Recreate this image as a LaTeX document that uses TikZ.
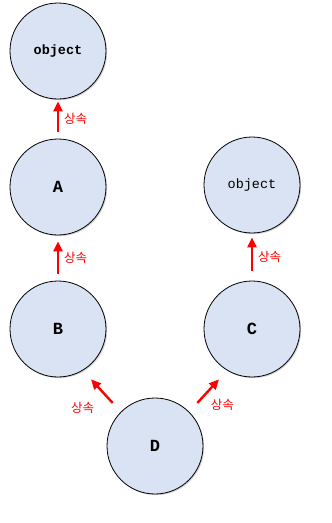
\documentclass[tikz,border=0pt]{standalone}
\usepackage{fontspec}
\setmonofont{Liberation Mono}
\newfontfamily\kofont{Noto Sans CJK KR}
\usetikzlibrary{arrows.meta,shadows}
\definecolor{clsfill}{RGB}{218,227,243}
\tikzset{
  cls/.style={circle, draw=black, line width=0.8pt, fill=clsfill, minimum size=96pt, inner sep=0pt,
    drop shadow={shadow xshift=1.2pt, shadow yshift=-1.2pt, opacity=0.35}},
  inh/.style={red, line width=2.4pt, -{Triangle[length=10pt,width=9pt]}},
  inhlabel/.style={text=red, font=\kofont\fontsize{12.5}{14}\selectfont, inner sep=1pt}
}
\begin{document}
\begin{tikzpicture}[x=1pt,y=-1pt]
    \useasboundingbox (0,0) rectangle (332,523);
    % classes
    \node[cls] (obj1) at (58,51) {\ttfamily\bfseries\fontsize{13.5}{15}\selectfont object};
    \node[cls] (a) at (58,187) {\ttfamily\bfseries\fontsize{17}{19}\selectfont A};
    \node[cls] (b) at (58,329) {\ttfamily\bfseries\fontsize{17}{19}\selectfont B};
    \node[cls] (obj2) at (252,185) {\ttfamily\fontsize{13.5}{15}\selectfont object};
    \node[cls] (c) at (252,329) {\ttfamily\bfseries\fontsize{17}{19}\selectfont C};
    \node[cls] (d) at (155,446) {\ttfamily\bfseries\fontsize{17}{19}\selectfont D};
    % inheritance
    \draw[inh, shorten <=7pt, shorten >=2pt] (a) -- (obj1) node[midway, right=4pt, inhlabel]{상속};
    \draw[inh, shorten <=7pt, shorten >=6pt] (b) -- (a) node[midway, right=4pt, inhlabel]{상속};
    \draw[inh, shorten <=10pt, shorten >=4pt] (c) -- (obj2) node[midway, right=4pt, inhlabel]{상속};
    \draw[inh, shorten <=12pt, shorten >=12pt] (d.135) -- (b.-59)
        node[pos=0.2, anchor=north east, xshift=-17pt, yshift=4pt, inhlabel]{상속};
    \draw[inh, shorten <=12pt, shorten >=12pt] (d.45) -- (c.-121)
        node[pos=0.2, anchor=north west, xshift=12pt, yshift=7pt, inhlabel]{상속};
\end{tikzpicture}
\end{document}
